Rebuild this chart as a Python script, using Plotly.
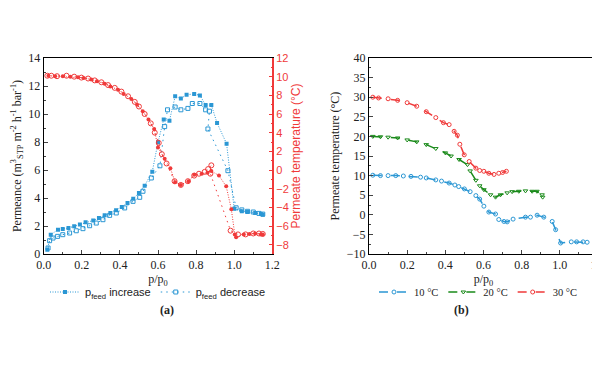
import plotly.graph_objects as go

# ---------------- (a) data ----------------
inc_x = [0.019, 0.037, 0.075, 0.10, 0.13, 0.16, 0.19, 0.22, 0.26, 0.29, 0.32, 0.35, 0.38, 0.41,
         0.44, 0.47, 0.50, 0.53, 0.57, 0.60, 0.63, 0.66, 0.69, 0.72, 0.75, 0.79, 0.82, 0.85,
         0.88, 0.91, 0.96, 1.00, 1.04, 1.07, 1.11, 1.14, 1.15]
inc_perm = [0.31, 1.38, 1.74, 1.79, 1.86, 1.98, 2.1, 2.26, 2.4, 2.57, 2.76, 2.93, 3.12, 3.36,
            3.64, 3.95, 4.36, 4.88, 5.88, 7.98, 9.6, 9.52, 11.26, 11.1, 11.38, 11.43, 11.33, 10.64,
            10.64, 9.36, 7.88, 3.24, 3.05, 3.0, 2.93, 2.86, 2.81]

dec_x = [0.023, 0.031, 0.049, 0.073, 0.10, 0.136, 0.171, 0.206, 0.241, 0.276, 0.311, 0.346, 0.381,
         0.425, 0.469, 0.504, 0.521, 0.565, 0.61, 0.635, 0.65, 0.69, 0.72, 0.757, 0.78, 0.82,
         0.85, 0.87, 0.862, 0.967, 1.01, 1.04, 1.07, 1.10, 1.13, 1.15]
dec_perm = [0.43, 0.95, 1.14, 1.26, 1.38, 1.5, 1.66, 1.81, 2.02, 2.21, 2.45, 2.76, 2.93,
            3.29, 3.76, 4.05, 4.48, 5.43, 6.3, 9.1, 10.3, 10.5, 10.3, 10.4, 10.75, 10.75,
            10.3, 10.2, 8.93, 5.95, 3.3, 3.15, 3.05, 3.0, 2.9, 2.85]

tinc_x = [0.025, 0.06, 0.10, 0.14, 0.18, 0.21, 0.25, 0.28, 0.32, 0.35, 0.39, 0.42, 0.46, 0.49,
          0.52, 0.55, 0.58, 0.60, 0.635, 0.665, 0.69, 0.72, 0.76, 0.79, 0.83, 0.86, 0.88,
          0.92, 0.958, 0.985, 1.003, 1.01, 1.05, 1.08, 1.11, 1.14, 1.15]
tinc_t = [10.1, 10.05, 10.05, 10.0, 9.95, 9.85, 9.7, 9.5, 9.25, 8.95, 8.6, 8.15, 7.6, 7.0,
          6.3, 5.4, 4.4, 2.4, 1.2, 0.2, -1.3, -1.6, -1.2, -0.5, -0.4, -0.3, -0.1,
          -0.6, -1.75, -4.2, -6.9, -7.2, -6.9, -6.85, -6.8, -6.9, -6.9]

tdec_x = [0.019, 0.04, 0.07, 0.12, 0.16, 0.198, 0.233, 0.268, 0.303, 0.338, 0.373, 0.408, 0.443,
          0.478, 0.50, 0.53, 0.562, 0.583, 0.604, 0.62, 0.645, 0.687, 0.72, 0.757, 0.79,
          0.815, 0.845, 0.863, 0.88, 0.875, 0.981, 1.02, 1.06, 1.10, 1.13, 1.15]
tdec_t = [10.1, 10.1, 10.05, 10.1, 10.0, 9.9, 9.8, 9.6, 9.4, 9.1, 8.8, 8.4, 7.9,
          7.3, 6.8, 6.0, 5.0, 4.0, 2.9, 1.7, 0.7, -1.2, -1.6, -1.2, -0.6,
          -0.4, -0.2, 0.1, 0.5, -0.4, -6.5, -6.9, -6.9, -6.8, -6.8, -6.85]

# ---------------- (b) data ----------------
t10_x = [0.02, 0.06, 0.10, 0.14, 0.18, 0.22, 0.27, 0.30, 0.35, 0.38, 0.42, 0.45, 0.47, 0.50,
         0.53, 0.56, 0.58, 0.602, 0.628, 0.663, 0.68, 0.707, 0.724, 0.755, 0.82, 0.846,
         0.881, 0.916, 0.96, 0.978, 1.004, 1.06, 1.088, 1.122, 1.143]
t10_y = [10.1, 10.0, 10.0, 10.0, 9.9, 9.8, 9.6, 9.4, 8.9, 8.6, 8.1, 7.6, 7.2, 6.6,
         5.9, 4.9, 4.0, 2.2, 0.7, 0.2, -1.2, -1.7, -1.8, -1.1, -0.6, -0.6,
         -0.1, -0.6, -1.7, -3.8, -7.2, -6.9, -6.9, -6.9, -7.0]

t20_x = [0.02, 0.06, 0.10, 0.15, 0.20, 0.25, 0.30, 0.35, 0.40, 0.43, 0.472, 0.516, 0.53, 0.56,
         0.58, 0.602, 0.637, 0.663, 0.689, 0.724, 0.75, 0.785, 0.82, 0.855, 0.88, 0.907, 0.91]
t20_y = [20.0, 19.9, 19.8, 19.6, 19.1, 18.6, 17.9, 16.9, 15.8, 15.0, 14.1, 12.8, 11.2, 8.8,
         7.4, 6.4, 5.1, 4.5, 5.1, 5.6, 5.9, 6.0, 6.1, 6.0, 6.0, 5.1, 4.5]

t30_x = [0.02, 0.05, 0.10, 0.15, 0.20, 0.25, 0.30, 0.35, 0.39, 0.42, 0.446, 0.463, 0.476, 0.499,
         0.525, 0.56, 0.58, 0.602, 0.628, 0.655, 0.68, 0.70, 0.72]
t30_y = [30.0, 29.8, 29.6, 29.2, 28.6, 27.7, 26.3, 24.8, 23.5, 23.0, 21.3, 20.3, 18.0, 15.3,
         13.6, 11.9, 11.3, 11.1, 10.6, 10.3, 10.6, 10.8, 11.1]

# ---------------- styling ----------------
BLUE = "#2b97d4"
RED = "#f03a3a"
GREEN = "#1a8a1a"
SERIF = "Liberation Serif"
SANS = "Liberation Sans"
INK = "#222"

fig = go.Figure()

fig.add_trace(go.Scatter(x=inc_x, y=inc_perm, mode="lines+markers", name="p<sub>feed</sub> increase",
                         line=dict(color=BLUE, width=1, dash="1px,1.5px"),
                         marker=dict(symbol="square", size=4, color=BLUE),
                         xaxis="x", yaxis="y", legend="legend"))
fig.add_trace(go.Scatter(x=dec_x, y=dec_perm, mode="lines+markers", name="p<sub>feed</sub> decrease",
                         line=dict(color=BLUE, width=1, dash="1.5px,4px"),
                         marker=dict(symbol="square-open", size=4, color=BLUE, line=dict(width=1)),
                         xaxis="x", yaxis="y", legend="legend"))
fig.add_trace(go.Scatter(x=tinc_x, y=tinc_t, mode="lines+markers", showlegend=False,
                         line=dict(color=RED, width=1, dash="1px,1.5px"),
                         marker=dict(symbol="circle", size=4, color=RED),
                         xaxis="x", yaxis="y2"))
fig.add_trace(go.Scatter(x=tdec_x, y=tdec_t, mode="lines+markers", showlegend=False,
                         line=dict(color=RED, width=1, dash="1.5px,4px"),
                         marker=dict(symbol="circle-open", size=5, color=RED, line=dict(width=1)),
                         xaxis="x", yaxis="y2"))

fig.add_trace(go.Scatter(x=t10_x, y=t10_y, mode="lines+markers", name="10 °C",
                         line=dict(color=BLUE, width=1.5, dash="dash"),
                         marker=dict(symbol="circle-open", size=4, color=BLUE),
                         xaxis="x2", yaxis="y3", legend="legend2"))
fig.add_trace(go.Scatter(x=t20_x, y=t20_y, mode="lines+markers", name="20 °C",
                         line=dict(color=GREEN, width=1.5, dash="dash"),
                         marker=dict(symbol="triangle-down-open", size=4, color=GREEN),
                         xaxis="x2", yaxis="y3", legend="legend2"))
fig.add_trace(go.Scatter(x=t30_x, y=t30_y, mode="lines+markers", name="30 °C",
                         line=dict(color=RED, width=1.5, dash="dash"),
                         marker=dict(symbol="circle-open", size=4, color=RED),
                         xaxis="x2", yaxis="y3", legend="legend2"))

xdomA = [35.7 / 600, 264.3 / 600]
xdomB = [361 / 600, 590 / 600]
ydom = [1 - 246 / 388, 1 - 50 / 388]

tickfont = dict(family=SERIF, size=12, color=INK)
common_x = dict(range=[0, 1.2], dtick=0.2, tickformat=".1f", ticks="inside", ticklen=4,
                showline=True, linecolor="black", linewidth=1, mirror=True,
                showgrid=False, zeroline=False, tickfont=tickfont,
                minor=dict(ticks="inside", ticklen=2, dtick=0.1, showgrid=False),
                title=dict(text="p/p<sub>0</sub>", font=dict(family=SERIF, size=12, color=INK), standoff=2))

fig.update_layout(
    width=600, height=388, autosize=False,
    margin=dict(l=0, r=0, t=0, b=0, autoexpand=False),
    paper_bgcolor="white", plot_bgcolor="white",
    xaxis=dict(domain=xdomA, anchor="y", **common_x),
    xaxis2=dict(domain=xdomB, anchor="y3", **common_x),
    yaxis=dict(domain=ydom, anchor="x", range=[0, 14], dtick=2, ticks="inside", ticklen=4,
               showline=True, linecolor="black", linewidth=1, showgrid=False, zeroline=False,
               tickfont=tickfont,
               minor=dict(ticks="inside", ticklen=2, dtick=1, showgrid=False),
               title=dict(text="Permeance (m<sup>3</sup><sub>STP</sub> m<sup>-2</sup> h<sup>-1</sup> bar<sup>-1</sup>)",
                          font=dict(family=SERIF, size=12, color=INK), standoff=4)),
    yaxis2=dict(domain=ydom, anchor="x", overlaying="y", side="right", range=[-9, 12], dtick=2,
                ticks="inside", ticklen=4, showline=True, linecolor=RED, linewidth=1.5,
                tickcolor=RED, showgrid=False, zeroline=False,
                tickfont=dict(family=SANS, size=11, color=RED),
                minor=dict(ticks="inside", ticklen=2, dtick=1, tickcolor=RED, showgrid=False),
                title=dict(text="Permeate temperature (°C)", font=dict(family=SANS, size=12, color=RED),
                           standoff=4)),
    yaxis3=dict(domain=ydom, anchor="x2", range=[-10, 40], dtick=5, ticks="inside", ticklen=4,
                showline=True, linecolor="black", linewidth=1, mirror=True, showgrid=False,
                zeroline=False, tickfont=tickfont,
                minor=dict(ticks="inside", ticklen=2, dtick=2.5, showgrid=False),
                title=dict(text="Permeate temperature (°C)", font=dict(family=SERIF, size=12, color=INK),
                           standoff=4)),
    legend=dict(x=150 / 600, y=1 - 284 / 388, xanchor="center", yanchor="middle",
                orientation="h", font=dict(family=SANS, size=11, color=INK),
                bgcolor="rgba(0,0,0,0)", itemwidth=30, tracegroupgap=0),
    legend2=dict(x=470 / 600, y=1 - 284 / 388, xanchor="center", yanchor="middle",
                 orientation="h", font=dict(family=SERIF, size=10.5, color=INK),
                 bgcolor="rgba(0,0,0,0)", itemwidth=30),
    annotations=[
        dict(text="<b>(a)</b>", x=150 / 600, y=1 - 311 / 388, xref="paper", yref="paper",
             showarrow=False, font=dict(family=SERIF, size=12, color=INK)),
        dict(text="<b>(b)</b>", x=463 / 600, y=1 - 311 / 388, xref="paper", yref="paper",
             showarrow=False, font=dict(family=SERIF, size=12, color=INK)),
    ],
)

fig.write_html("out.html")
